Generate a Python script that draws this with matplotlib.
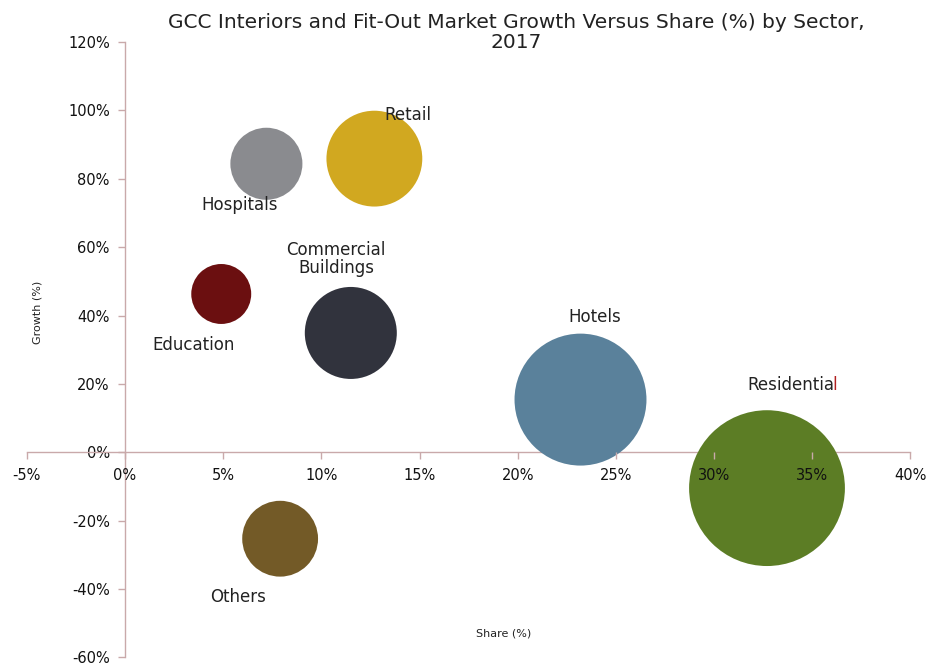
import numpy as np
import matplotlib.pyplot as plt
from matplotlib.ticker import FuncFormatter, MultipleLocator

# sector data: market share (%), growth (%), relative bubble size
sectors = ["Hospitals", "Retail", "Education", "Commercial\nBuildings",
           "Hotels", "Residential", "Others"]
share = [7.2, 12.7, 4.9, 11.5, 23.2, 32.7, 7.9]
growth = [84.4, 85.9, 46.3, 34.9, 15.4, -10.5, -25.3]
size = [1300, 2300, 900, 2120, 4360, 6080, 1440]
colors = ["#8a8b8f", "#d1a820", "#6b0f10", "#31333d",
          "#5a819b", "#5c7d25", "#735a27"]

# label anchor points (share, growth)
label_x = [5.84, 14.39, 3.47, 10.76, 23.93, 34.18, 5.77]
label_y = [72.2, 98.7, 31.4, 56.5, 39.6, 19.8, -42.5]

axis_col = "#c9a9aa"

fig = plt.figure(figsize=(9.27, 6.68), dpi=100)
ax = fig.add_axes([0.029, 0.016, 0.953, 0.921])

ax.scatter(share, growth, s=np.array(size) * 2.07, c=colors,
           linewidths=0, zorder=3)

for i, name in enumerate(sectors):
    if name == "Residential":
        continue
    ax.text(label_x[i], label_y[i], name, ha="center", va="center",
            fontsize=12, color="#222222", linespacing=1.0, zorder=5)

# Residential label with its last letter in red
t = ax.text(label_x[5] - 2.5, label_y[5], "Residentia", ha="left",
            va="center", fontsize=12, color="#222222", zorder=5)
ax.annotate("l", xy=(1, 0), xycoords=t, xytext=(-1, 0),
            textcoords="offset points", ha="left", va="bottom",
            fontsize=12, color="#b02020", zorder=5)

ax.set_xlim(-5, 40)
ax.set_ylim(-60, 120)
ax.xaxis.set_major_locator(MultipleLocator(5))
ax.yaxis.set_major_locator(MultipleLocator(20))
pct = FuncFormatter(lambda v, p: f"{v:.0f}%")
ax.xaxis.set_major_formatter(pct)
ax.yaxis.set_major_formatter(pct)

ax.spines["left"].set_position(("data", 0))
ax.spines["bottom"].set_position(("data", 0))
ax.spines["top"].set_visible(False)
ax.spines["right"].set_visible(False)
for sp in ("left", "bottom"):
    ax.spines[sp].set_color(axis_col)
    ax.spines[sp].set_linewidth(1.0)
ax.tick_params(colors=axis_col, labelcolor="#111111", labelsize=10.5,
               length=5, width=1, direction="out")
ax.tick_params(axis="x", pad=6)
ax.tick_params(axis="y", pad=6)
ax.xaxis.set_zorder(4)

fig.text(0.557, 0.951, "GCC Interiors and Fit-Out Market Growth Versus Share (%) by Sector,\n2017",
         ha="center", va="center", fontsize=14.5, color="#222222",
         linespacing=1.1)
fig.text(0.543, 0.052, "Share (%)", ha="center", va="center", fontsize=8,
         color="#222222")
fig.text(0.040, 0.533, "Growth (%)", ha="center", va="center", fontsize=8,
         color="#222222", rotation=90)

fig.savefig("out.png", dpi=100)
